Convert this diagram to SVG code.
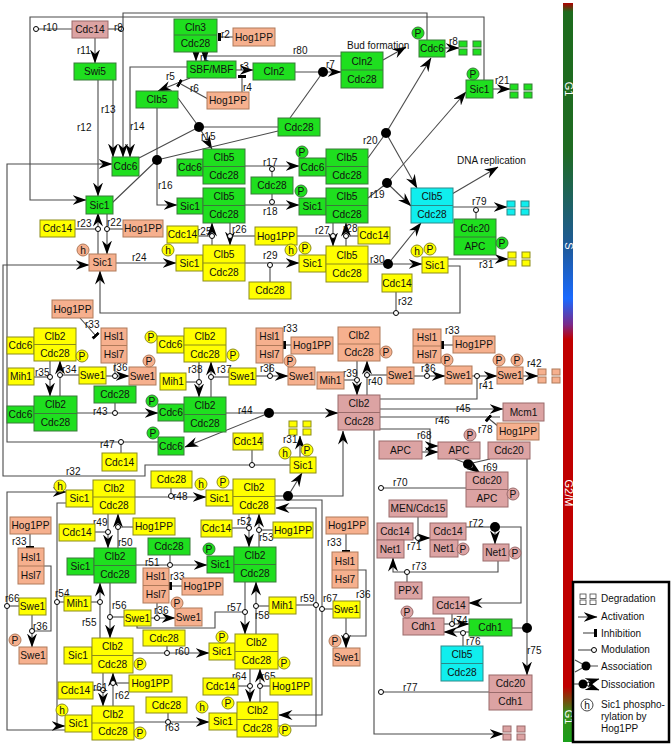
<svg xmlns="http://www.w3.org/2000/svg" xmlns:xlink="http://www.w3.org/1999/xlink" width="672" height="746" viewBox="0 0 672 746">
<style>
text{font-family:"Liberation Sans",Arial,sans-serif;font-size:10.2px;fill:#111}
.t{text-anchor:middle}
.l{font-size:10px}
.g{fill:#1fdf1f;stroke:#3a7a3a;stroke-width:1}
.y{fill:#ffff00;stroke:#8c8c1a;stroke-width:1}
.s{fill:#f6b08e;stroke:#b07a5a;stroke-width:1}
.k{fill:#dca3a3;stroke:#9a6b6b;stroke-width:1}
.c{fill:#10eeee;stroke:#2a8a8a;stroke-width:1}
.e path{fill:none;stroke:#4a4a4a;stroke-width:1.1}
.ea{marker-end:url(#a)}
.eb{marker-end:url(#b)}
.em{marker-end:url(#m)}
.dot{fill:#000}
.bt{fill:#fff;font-size:11px;text-anchor:middle}
</style>
<defs>
<marker id="a" viewBox="0 0 14 10" refX="13.5" refY="5" markerWidth="14" markerHeight="10" markerUnits="userSpaceOnUse" orient="auto"><path d="M0,0 L14,5 L0,10 L4.5,5 Z" fill="#000"/></marker>
<marker id="b" viewBox="0 0 3 10" refX="2" refY="5" markerWidth="3" markerHeight="10" markerUnits="userSpaceOnUse" orient="auto"><rect x="0" y="1" width="3" height="8" fill="#000"/></marker>
<marker id="m" viewBox="-4 -4 8 8" refX="0" refY="0" markerWidth="8" markerHeight="8" markerUnits="userSpaceOnUse"><circle r="2.5" fill="#fff" stroke="#000" stroke-width="1"/></marker>
<g id="dg"><rect x="0" y="0" width="8" height="6"/><rect x="0" y="8" width="8" height="6"/><rect x="14" y="0" width="8" height="6"/><rect x="14" y="8" width="8" height="6"/></g>
<linearGradient id="bar" x1="0" y1="0" x2="0" y2="1">
<stop offset="0" stop-color="#b00000"/>
<stop offset="0.012" stop-color="#1d6b1d"/>
<stop offset="0.2" stop-color="#1f6b22"/>
<stop offset="0.33" stop-color="#1e5a9a"/>
<stop offset="0.4" stop-color="#1a6aff"/>
<stop offset="0.435" stop-color="#7a2a8a"/>
<stop offset="0.455" stop-color="#c00000"/>
<stop offset="0.925" stop-color="#c00000"/>
<stop offset="0.96" stop-color="#3a8a1a"/>
<stop offset="1" stop-color="#1aa01a"/>
</linearGradient>
</defs>
<rect x="0" y="0" width="672" height="746" fill="#fff"/>

<!-- cell cycle bar -->
<g id="phasebar">
<rect x="563" y="3" width="10" height="739" fill="url(#bar)"/>
<text class="bt" transform="translate(564.5,89) rotate(90)">G1</text>
<text class="bt" transform="translate(564.5,246) rotate(90)">S</text>
<text class="bt" transform="translate(564.5,493) rotate(90)">G2/M</text>
<text class="bt" transform="translate(564.5,717) rotate(90)">G1</text>
</g>

<!-- connectors -->
<g id="connectors" class="e">
<path class="ea" d="M484,80 V17 H30 V200 H86"/>
<path class="em" d="M72,29 H36"/>
<path class="ea" d="M427,40 V13 H123 V157"/>
<path class="em" d="M108,29 H121"/>
<path class="ea" d="M95,38 V63"/>
<path class="ea" d="M98,80 V196"/>
<path class="ea" d="M113,80 V157"/>
<path class="ea" d="M187,67 H130 V157"/>
<path class="ea" d="M196,52 V61"/>
<path class="ea" d="M341,56 H205 V61"/>
<path class="eb" d="M233,37 H219"/>
<path class="ea" d="M190,78 L158,91"/>
<path class="eb" d="M208,99 L179,83"/>
<path class="ea" d="M236,70 H253"/>
<path class="eb" d="M242,92 V76"/>
<path class="ea" d="M295,72 H341"/>
<path d="M290,118 L323,72"/>
<path class="ea" d="M383,60 L406,47"/>
<path class="ea" d="M445,48 H459"/>
<path class="ea" d="M493,89 H510"/>
<path d="M178,98 L199,127 M139,158 L199,127 M199,127 H278"/>
<path class="ea" d="M199,127 L212,149"/>
<path class="ea" d="M157,108 V205 H177"/>
<path d="M112,203 L157,160 M157,160 L278,131"/>
<path class="ea" d="M245,166 H299"/>
<path class="em" d="M272,177 V169"/>
<path class="ea" d="M245,205 H299"/>
<path class="em" d="M272,194 V202"/>
<path d="M368,158 L386,133"/>
<path class="ea" d="M386,133 L431,58"/>
<path class="ea" d="M386,133 L417,188"/>
<path d="M368,198 L387,183"/>
<path class="ea" d="M387,183 L466,92"/>
<path class="ea" d="M387,183 L411,206"/>
<path class="ea" d="M368,264 H422"/>
<path class="ea" d="M388,264 L421,223"/>
<path class="ea" d="M452,194 L498,167"/>
<path class="ea" d="M453,207 H507"/>
<path class="em" d="M476,219 V210"/>
<path class="ea" d="M107,213 V254"/>
<path class="em" d="M123,229 H107"/>
<path class="ea" d="M98,254 V213"/>
<path class="em" d="M75,229 H98"/>
<path class="ea" d="M116,263 H176"/>
<path class="ea" d="M212,245 V223"/>
<path class="em" d="M198,236 H212"/>
<path class="ea" d="M230,223 V245"/>
<path class="em" d="M255,236 H230"/>
<path class="ea" d="M333,223 V246"/>
<path class="em" d="M297,236 H333"/>
<path class="ea" d="M346,246 V223"/>
<path class="em" d="M358,236 H346"/>
<path class="ea" d="M245,263 H299"/>
<path class="em" d="M270,282 V265"/>
<path class="ea" d="M448,259 H508"/>
<path class="ea" d="M448,266 H460 V313 H100 V271"/>
<path class="em" d="M396,292 V313"/>
<path class="ea" d="M290,465 H145 V476 H3 V265 H89"/>
<path class="em" d="M252,450 V465"/>
<path class="ea" d="M158,442 H7 V164 H112"/>
<path class="em" d="M121,453 V442"/>
<path class="eb" d="M80,318 L96,336"/>
<path class="ea" d="M50,361 V396"/>
<path class="em" d="M34,377 H50"/>
<path class="ea" d="M60,396 V361"/>
<path class="em" d="M79,375 H60"/>
<path class="ea" d="M106,376 H129"/>
<path class="em" d="M115,363 V376"/>
<path class="ea" d="M77,413 H158"/>
<path class="em" d="M115,403 V413"/>
<path class="ea" d="M199,362 V397"/>
<path class="em" d="M186,382 H199"/>
<path class="ea" d="M211,397 V362"/>
<path class="em" d="M229,377 H211"/>
<path class="eb" d="M291,345 H284"/>
<path class="ea" d="M256,376 H288"/>
<path class="em" d="M270,363 V376"/>
<path class="ea" d="M357,361 V395"/>
<path class="em" d="M344,380 H357"/>
<path class="ea" d="M367,395 V361"/>
<path class="em" d="M387,375 H367"/>
<path class="eb" d="M453,345 H442"/>
<path class="ea" d="M414,376 H445"/>
<path class="em" d="M427,363 V376"/>
<path class="ea" d="M472,376 H497"/>
<path class="em" d="M380,399 H477 V376"/>
<path class="ea" d="M523,376 H538"/>
<path d="M226,413 H269"/>
<path class="ea" d="M269,413 H338"/>
<path class="ea" d="M269,413 L185,447"/>
<path class="ea" d="M380,409 H503"/>
<path d="M380,417 H500"/>
<path class="eb" d="M499,427 L488,418"/>
<path class="ea" d="M422,452 H438"/>
<path class="ea" d="M380,429 H430 V446 H438"/>
<path d="M455,459 L468,464 M490,459 L468,464"/>
<path class="ea" d="M468,464 L480,473"/>
<path class="em" d="M466,488 H381"/>
<path class="ea" d="M374,430 V734 H503"/>
<path class="em" d="M489,692 H381"/>
<path class="ea" d="M135,497 H206"/>
<path class="em" d="M171,488 V496"/>
<path d="M275,496 H288"/>
<path class="ea" d="M288,496 L302,473"/>
<path class="ea" d="M288,496 H343 V431"/>
<path class="ea" d="M300,457 V436"/>
<path class="ea" d="M108,514 V548"/>
<path class="em" d="M95,532 H108"/>
<path class="ea" d="M118,548 V514"/>
<path class="em" d="M133,527 H118"/>
<path class="ea" d="M136,565 H207"/>
<path class="em" d="M170,555 V565"/>
<path class="ea" d="M249,514 V547"/>
<path class="em" d="M231,528 H249"/>
<path class="ea" d="M259,547 V514"/>
<path class="em" d="M273,530 H259"/>
<path class="ea" d="M66,730 H7 V492 H66"/>
<path class="ea" d="M66,503 H57 V726 H65"/>
<path class="em" d="M64,602 H57"/>
<path class="em" d="M19,606 H7"/>
<path class="ea" d="M100,638 V583"/>
<path class="em" d="M91,602 H100"/>
<path class="ea" d="M110,583 V638"/>
<path class="em" d="M124,617 H110"/>
<path class="eb" d="M182,586 H170"/>
<path class="ea" d="M151,618 H175"/>
<path class="em" d="M157,603 V618"/>
<path class="ea" d="M245,582 V634"/>
<path class="em" d="M137,626 V628 H215 V612 H245"/>
<path class="ea" d="M256,634 V582"/>
<path class="em" d="M269,606 H256"/>
<path class="ea" d="M278,726 H316 V508 H276"/>
<path class="em" d="M296,605 H316"/>
<path class="ea" d="M275,500 H322 V715 H279"/>
<path class="em" d="M333,609 H322"/>
<path class="ea" d="M133,653 H209"/>
<path class="em" d="M167,646 V653"/>
<path class="ea" d="M103,673 V706"/>
<path class="em" d="M93,690 H103"/>
<path class="ea" d="M113,706 V673"/>
<path class="em" d="M129,683 H113"/>
<path class="ea" d="M134,722 H209"/>
<path class="em" d="M168,713 V722"/>
<path class="ea" d="M250,669 V702"/>
<path class="em" d="M238,686 H250"/>
<path class="ea" d="M260,702 V669"/>
<path class="em" d="M270,686 H260"/>
<path class="eb" d="M30,534 V548"/>
<path class="ea" d="M32,615 V647"/>
<path class="em" d="M44,566 H51 V631 H32"/>
<path class="eb" d="M346,534 V552"/>
<path class="ea" d="M346,618 V648"/>
<path class="em" d="M358,570 H366 V636 H346"/>
<path class="ea" d="M413,538 H430"/>
<path class="em" d="M418,517 V538"/>
<path d="M466,527 H495"/>
<path class="ea" d="M495,527 H521 V603 H469"/>
<path class="ea" d="M495,527 V544"/>
<path class="ea" d="M498,561 V572 H393 V558"/>
<path class="em" d="M407,582 V572"/>
<path class="ea" d="M444,624 H469"/>
<path class="ea" d="M469,632 H444"/>
<path class="em" d="M452,614 V624"/>
<path class="em" d="M463,646 V633"/>
<path class="ea" d="M527,459 V675"/>
<path d="M512,628 H527"/>
</g>

<!-- association / dissociation dots -->
<g id="dots" class="dot">
<circle cx="323" cy="72" r="5"/>
<circle cx="199" cy="127" r="5"/>
<circle cx="157" cy="160" r="5"/>
<circle cx="386" cy="133" r="5"/>
<circle cx="387" cy="183" r="5"/>
<circle cx="388" cy="264" r="5"/>
<circle cx="269" cy="413" r="5"/>
<circle cx="468" cy="464" r="5"/>
<circle cx="288" cy="496" r="5"/>
<circle cx="495" cy="527" r="5"/>
<circle cx="527" cy="628" r="5"/>
</g>

<!-- degradation -->
<g id="degradation">
<use xlink:href="#dg" href="#dg" x="459" y="41" class="g"/>
<use xlink:href="#dg" href="#dg" x="510" y="84" class="g"/>
<use xlink:href="#dg" href="#dg" x="507" y="201" class="c"/>
<use xlink:href="#dg" href="#dg" x="508" y="252" class="y"/>
<use xlink:href="#dg" href="#dg" x="289" y="421" class="y"/>
<use xlink:href="#dg" href="#dg" x="538" y="369" class="s"/>
<use xlink:href="#dg" href="#dg" x="503" y="726" class="k"/>
</g>

<!-- reaction labels -->
<g id="labels">
<text x="114" y="31" class="l">r9</text>
<text x="43" y="31" class="l">r10</text>
<text x="77" y="54" class="l">r11</text>
<text x="221" y="38" class="l">r2</text>
<text x="200" y="61" class="l">r1</text>
<text x="166" y="80" class="l">r5</text>
<text x="190" y="92" class="l">r6</text>
<text x="240" y="70" class="l">r3</text>
<text x="243" y="91" class="l">r4</text>
<text x="326" y="68" class="l">r7</text>
<text x="293" y="54" class="l">r80</text>
<text x="449" y="45" class="l">r8</text>
<text x="495" y="84" class="l">r21</text>
<text x="347" y="49" class="l">Bud formation</text>
<text x="457" y="164" class="l">DNA replication</text>
<text x="101" y="113" class="l">r13</text>
<text x="77" y="131" class="l">r12</text>
<text x="130" y="130" class="l">r14</text>
<text x="201" y="140" class="l">r15</text>
<text x="158" y="189" class="l">r16</text>
<text x="263" y="166" class="l">r17</text>
<text x="263" y="215" class="l">r18</text>
<text x="363" y="144" class="l">r20</text>
<text x="370" y="198" class="l">r19</text>
<text x="472" y="205" class="l">r79</text>
<text x="77" y="227" class="l">r23</text>
<text x="107" y="226" class="l">r22</text>
<text x="197" y="235" class="l">r25</text>
<text x="232" y="233" class="l">r26</text>
<text x="315" y="234" class="l">r27</text>
<text x="343" y="232" class="l">r28</text>
<text x="132" y="261" class="l">r24</text>
<text x="263" y="259" class="l">r29</text>
<text x="370" y="263" class="l">r30</text>
<text x="398" y="305" class="l">r32</text>
<text x="479" y="268" class="l">r31</text>
<text x="85" y="328" class="l">r33</text>
<text x="35" y="376" class="l">r35</text>
<text x="62" y="373" class="l">r34</text>
<text x="113" y="371" class="l">r36</text>
<text x="188" y="373" class="l">r38</text>
<text x="217" y="373" class="l">r37</text>
<text x="93" y="415" class="l">r43</text>
<text x="100" y="448" class="l">r47</text>
<text x="66" y="475" class="l">r32</text>
<text x="173" y="500" class="l">r48</text>
<text x="283" y="332" class="l">r33</text>
<text x="260" y="372" class="l">r36</text>
<text x="343" y="377" class="l">r39</text>
<text x="368" y="385" class="l">r40</text>
<text x="421" y="372" class="l">r36</text>
<text x="445" y="334" class="l">r33</text>
<text x="527" y="367" class="l">r42</text>
<text x="479" y="389" class="l">r41</text>
<text x="238" y="414" class="l">r44</text>
<text x="456" y="412" class="l">r45</text>
<text x="435" y="424" class="l">r46</text>
<text x="478" y="433" class="l">r78</text>
<text x="417" y="439" class="l">r68</text>
<text x="483" y="471" class="l">r69</text>
<text x="393" y="486" class="l">r70</text>
<text x="283" y="443" class="l">r31</text>
<text x="407" y="550" class="l">r71</text>
<text x="469" y="527" class="l">r72</text>
<text x="412" y="570" class="l">r73</text>
<text x="453" y="624" class="l">r74</text>
<text x="466" y="645" class="l">r76</text>
<text x="527" y="654" class="l">r75</text>
<text x="403" y="691" class="l">r77</text>
<text x="93" y="526" class="l">r49</text>
<text x="118" y="546" class="l">r50</text>
<text x="145" y="566" class="l">r51</text>
<text x="170" y="580" class="l">r33</text>
<text x="12" y="545" class="l">r33</text>
<text x="5" y="602" class="l">r66</text>
<text x="55" y="597" class="l">r54</text>
<text x="82" y="626" class="l">r55</text>
<text x="112" y="609" class="l">r56</text>
<text x="154" y="614" class="l">r36</text>
<text x="33" y="630" class="l">r36</text>
<text x="175" y="655" class="l">r60</text>
<text x="93" y="691" class="l">r61</text>
<text x="115" y="699" class="l">r62</text>
<text x="165" y="731" class="l">r63</text>
<text x="237" y="525" class="l">r52</text>
<text x="259" y="541" class="l">r53</text>
<text x="227" y="611" class="l">r57</text>
<text x="255" y="619" class="l">r58</text>
<text x="300" y="602" class="l">r59</text>
<text x="323" y="602" class="l">r67</text>
<text x="356" y="598" class="l">r36</text>
<text x="327" y="546" class="l">r33</text>
<text x="232" y="680" class="l">r64</text>
<text x="261" y="680" class="l">r65</text>
</g>

<!-- nodes -->
<g id="n-cdc14-top"><rect class="k" x="72" y="21" width="36" height="17"/><text class="t" x="90" y="33">Cdc14</text></g>
<g id="n-cln3-cdc28"><rect class="g" x="174" y="19" width="43" height="33"/><line class="g" x1="174" y1="35" x2="217" y2="35"/><text class="t" x="195.5" y="31">Cln3</text><text class="t" x="195.5" y="47">Cdc28</text></g>
<g id="n-hog1pp-1"><rect class="s" x="233" y="28" width="42" height="18"/><text class="t" x="254" y="40.5">Hog1PP</text></g>
<g id="n-sbf"><rect class="g" x="187" y="61" width="49" height="17"/><text class="t" x="211.5" y="73">SBF/MBF</text></g>
<g id="n-swi5"><rect class="g" x="74" y="63" width="42" height="17"/><text class="t" x="95" y="75">Swi5</text></g>
<g id="n-clb5"><rect class="g" x="136" y="91" width="42" height="17"/><text class="t" x="157" y="103">Clb5</text></g>
<g id="n-hog1pp-2"><rect class="s" x="207" y="92" width="42" height="17"/><text class="t" x="228" y="104">Hog1PP</text></g>
<g id="n-cln2"><rect class="g" x="253" y="63" width="42" height="17"/><text class="t" x="274" y="75">Cln2</text></g>
<g id="n-cdc28-top"><rect class="g" x="278" y="118" width="42" height="18"/><text class="t" x="299" y="130.5">Cdc28</text></g>
<g id="n-cln2-cdc28"><rect class="g" x="341" y="52" width="42" height="36"/><line class="g" x1="341" y1="70" x2="383" y2="70"/><text class="t" x="362" y="64.5">Cln2</text><text class="t" x="362" y="82.5">Cdc28</text></g>
<g id="n-cdc6p-top"><rect class="g" x="419" y="40" width="26" height="17"/><text class="t" x="432" y="52">Cdc6</text><circle class="g" cx="418" cy="33" r="6"/><text class="t" x="418" y="36.5">P</text></g>
<g id="n-sic1p-top"><rect class="g" x="466" y="80" width="27" height="18"/><text class="t" x="479.5" y="92.5">Sic1</text><circle class="g" cx="473" cy="74" r="6"/><text class="t" x="473" y="77.5">P</text></g>
<g id="n-cdc6"><rect class="g" x="112" y="157" width="27" height="19"/><text class="t" x="125.5" y="170">Cdc6</text></g>
<g id="n-cdc6-clb5"><rect class="g" x="177" y="159" width="26" height="17"/><text class="t" x="190" y="171">Cdc6</text><rect class="g" x="203" y="149" width="42" height="35"/><line class="g" x1="203" y1="166.5" x2="245" y2="166.5"/><text class="t" x="224" y="161">Clb5</text><text class="t" x="224" y="179">Cdc28</text></g>
<g id="n-sic1-clb5"><rect class="g" x="177" y="198" width="26" height="16"/><text class="t" x="190" y="209.5">Sic1</text><rect class="g" x="203" y="188" width="42" height="35"/><line class="g" x1="203" y1="205.5" x2="245" y2="205.5"/><text class="t" x="224" y="200">Clb5</text><text class="t" x="224" y="218">Cdc28</text></g>
<g id="n-sic1"><rect class="g" x="86" y="196" width="27" height="18"/><text class="t" x="99.5" y="208.5">Sic1</text></g>
<g id="n-cdc28-mod"><rect class="g" x="251" y="177" width="42" height="17"/><text class="t" x="272" y="189">Cdc28</text></g>
<g id="n-cdc6p-clb5"><rect class="g" x="299" y="158" width="27" height="18"/><text class="t" x="312.5" y="170.5">Cdc6</text><circle class="g" cx="302" cy="152" r="6"/><text class="t" x="302" y="155.5">P</text><rect class="g" x="326" y="149" width="42" height="35"/><line class="g" x1="326" y1="166.5" x2="368" y2="166.5"/><text class="t" x="347" y="161">Clb5</text><text class="t" x="347" y="179">Cdc28</text></g>
<g id="n-sic1p-clb5"><rect class="g" x="299" y="198" width="27" height="17"/><text class="t" x="312.5" y="210">Sic1</text><circle class="g" cx="301" cy="191" r="6"/><text class="t" x="301" y="194.5">P</text><rect class="g" x="326" y="188" width="42" height="35"/><line class="g" x1="326" y1="205.5" x2="368" y2="205.5"/><text class="t" x="347" y="200">Clb5</text><text class="t" x="347" y="218">Cdc28</text></g>
<g id="n-clb5-cdc28-cyan"><rect class="c" x="411" y="188" width="42" height="35"/><line class="c" x1="411" y1="205.5" x2="453" y2="205.5"/><text class="t" x="432" y="200">Clb5</text><text class="t" x="432" y="218">Cdc28</text></g>
<g id="n-cdc20-apc-g"><rect class="g" x="454" y="219" width="42" height="36"/><line class="g" x1="454" y1="237" x2="496" y2="237"/><text class="t" x="475" y="231.5">Cdc20</text><text class="t" x="475" y="249.5">APC</text><circle class="g" cx="502" cy="243" r="6"/><text class="t" x="502" y="246.5">P</text></g>
<g id="n-cdc14-y1"><rect class="y" x="40" y="220" width="35" height="17"/><text class="t" x="57.5" y="232">Cdc14</text></g>
<g id="n-hog1pp-3"><rect class="s" x="123" y="220" width="40" height="17"/><text class="t" x="143" y="232">Hog1PP</text></g>
<g id="n-sic1h-s"><rect class="s" x="89" y="254" width="27" height="17"/><text class="t" x="102.5" y="266">Sic1</text><circle class="s" cx="83" cy="250" r="6"/><text class="t" x="83" y="253.5">h</text></g>
<g id="n-cdc14-y2"><rect class="y" x="167" y="226" width="31" height="17"/><text class="t" x="182.5" y="238">Cdc14</text></g>
<g id="n-hog1pp-y1"><rect class="y" x="255" y="227" width="42" height="18"/><text class="t" x="276" y="239.5">Hog1PP</text></g>
<g id="n-cdc14-y3"><rect class="y" x="358" y="227" width="32" height="17"/><text class="t" x="374" y="239">Cdc14</text></g>
<g id="n-sic1h-clb5-y"><rect class="y" x="176" y="255" width="27" height="16"/><text class="t" x="189.5" y="266.5">Sic1</text><circle class="y" cx="168" cy="250" r="6"/><text class="t" x="168" y="253.5">h</text><rect class="y" x="203" y="245" width="42" height="36"/><line class="y" x1="203" y1="263" x2="245" y2="263"/><text class="t" x="224" y="257.5">Clb5</text><text class="t" x="224" y="275.5">Cdc28</text></g>
<g id="n-sic1hp-clb5-y"><rect class="y" x="299" y="255" width="27" height="17"/><text class="t" x="312.5" y="267">Sic1</text><circle class="y" cx="291" cy="250" r="6"/><text class="t" x="291" y="253.5">h</text><circle class="y" cx="305" cy="248" r="6"/><text class="t" x="305" y="251.5">P</text><rect class="y" x="326" y="246" width="42" height="36"/><line class="y" x1="326" y1="264" x2="368" y2="264"/><text class="t" x="347" y="258.5">Clb5</text><text class="t" x="347" y="276.5">Cdc28</text></g>
<g id="n-cdc28-y1"><rect class="y" x="249" y="282" width="42" height="17"/><text class="t" x="270" y="294">Cdc28</text></g>
<g id="n-sic1hp-right"><rect class="y" x="422" y="257" width="26" height="16"/><text class="t" x="435" y="268.5">Sic1</text><circle class="y" cx="417" cy="251" r="6"/><text class="t" x="417" y="254.5">h</text><circle class="y" cx="430" cy="249" r="6"/><text class="t" x="430" y="252.5">P</text></g>
<g id="n-cdc14-y4"><rect class="y" x="382" y="274" width="30" height="18"/><text class="t" x="397" y="286.5">Cdc14</text></g>
<g id="n-hog1pp-4"><rect class="s" x="52" y="300" width="41" height="18"/><text class="t" x="72.5" y="312.5">Hog1PP</text></g>
<g id="n-hsl-1"><rect class="s" x="101" y="328" width="26" height="35"/><line class="s" x1="101" y1="345.5" x2="127" y2="345.5"/><text class="t" x="114" y="340">Hsl1</text><text class="t" x="114" y="358">Hsl7</text></g>
<g id="n-cdc6-clb2-y"><rect class="y" x="7" y="337" width="27" height="17"/><text class="t" x="20.5" y="349">Cdc6</text><rect class="y" x="34" y="328" width="42" height="33"/><line class="y" x1="34" y1="344.5" x2="76" y2="344.5"/><text class="t" x="55" y="340">Clb2</text><text class="t" x="55" y="356.5">Cdc28</text><circle class="y" cx="82" cy="356" r="6"/><text class="t" x="82" y="359.5">P</text></g>
<g id="n-mih1-1"><rect class="y" x="8" y="368" width="26" height="17"/><text class="t" x="21" y="380">Mih1</text></g>
<g id="n-swe1-y1"><rect class="y" x="79" y="367" width="27" height="17"/><text class="t" x="92.5" y="379">Swe1</text></g>
<g id="n-swe1-s1"><rect class="s" x="129" y="367" width="27" height="18"/><text class="t" x="142.5" y="379.5">Swe1</text><circle class="s" cx="149" cy="361" r="6"/><text class="t" x="149" y="364.5">P</text></g>
<g id="n-cdc28-g2"><rect class="g" x="94" y="386" width="42" height="17"/><text class="t" x="115" y="398">Cdc28</text></g>
<g id="n-cdc6-clb2-g"><rect class="g" x="7" y="406" width="27" height="17"/><text class="t" x="20.5" y="418">Cdc6</text><rect class="g" x="34" y="396" width="43" height="35"/><line class="g" x1="34" y1="413.5" x2="77" y2="413.5"/><text class="t" x="55.5" y="408">Clb2</text><text class="t" x="55.5" y="426">Cdc28</text></g>
<g id="n-cdc6p-clb2-y"><rect class="y" x="157" y="336" width="27" height="17"/><text class="t" x="170.5" y="348">Cdc6</text><circle class="y" cx="151" cy="337" r="6"/><text class="t" x="151" y="340.5">P</text><rect class="y" x="184" y="328" width="42" height="34"/><line class="y" x1="184" y1="345" x2="226" y2="345"/><text class="t" x="205" y="340">Clb2</text><text class="t" x="205" y="357.5">Cdc28</text><circle class="y" cx="233" cy="355" r="6"/><text class="t" x="233" y="358.5">P</text></g>
<g id="n-mih1-2"><rect class="y" x="160" y="373" width="26" height="17"/><text class="t" x="173" y="385">Mih1</text></g>
<g id="n-swe1-y2"><rect class="y" x="229" y="368" width="27" height="17"/><text class="t" x="242.5" y="380">Swe1</text></g>
<g id="n-hsl-2"><rect class="s" x="256" y="328" width="27" height="35"/><line class="s" x1="256" y1="345.5" x2="283" y2="345.5"/><text class="t" x="269.5" y="340">Hsl1</text><text class="t" x="269.5" y="358">Hsl7</text></g>
<g id="n-hog1pp-5"><rect class="s" x="291" y="337" width="42" height="17"/><text class="t" x="312" y="349">Hog1PP</text></g>
<g id="n-swe1-s2"><rect class="s" x="288" y="367" width="27" height="18"/><text class="t" x="301.5" y="379.5">Swe1</text><circle class="s" cx="290" cy="361" r="6"/><text class="t" x="290" y="364.5">P</text></g>
<g id="n-clb2-cdc28-s"><rect class="s" x="338" y="327" width="42" height="34"/><line class="s" x1="338" y1="344" x2="380" y2="344"/><text class="t" x="359" y="339">Clb2</text><text class="t" x="359" y="356">Cdc28</text><circle class="s" cx="386" cy="352" r="6"/><text class="t" x="386" y="355.5">P</text></g>
<g id="n-mih1-s"><rect class="s" x="317" y="372" width="27" height="17"/><text class="t" x="330.5" y="384">Mih1</text></g>
<g id="n-swe1-s3"><rect class="s" x="387" y="367" width="27" height="17"/><text class="t" x="400.5" y="379">Swe1</text></g>
<g id="n-hsl-3"><rect class="s" x="413" y="329" width="28" height="34"/><line class="s" x1="413" y1="346" x2="441" y2="346"/><text class="t" x="427" y="341">Hsl1</text><text class="t" x="427" y="358">Hsl7</text></g>
<g id="n-hog1pp-6"><rect class="s" x="453" y="336" width="42" height="17"/><text class="t" x="474" y="348">Hog1PP</text></g>
<g id="n-swe1p"><rect class="s" x="445" y="366" width="27" height="18"/><text class="t" x="458.5" y="378.5">Swe1</text><circle class="s" cx="447" cy="360" r="6"/><text class="t" x="447" y="363.5">P</text></g>
<g id="n-swe1pp"><rect class="s" x="497" y="367" width="26" height="17"/><text class="t" x="510" y="379">Swe1</text><circle class="s" cx="499" cy="360" r="6"/><text class="t" x="499" y="363.5">P</text><circle class="s" cx="517" cy="360" r="6"/><text class="t" x="517" y="363.5">P</text></g>
<g id="n-cdc6p-clb2-g"><rect class="g" x="158" y="404" width="26" height="17"/><text class="t" x="171" y="416">Cdc6</text><circle class="g" cx="152" cy="401" r="6"/><text class="t" x="152" y="404.5">P</text><rect class="g" x="184" y="397" width="42" height="35"/><line class="g" x1="184" y1="414.5" x2="226" y2="414.5"/><text class="t" x="205" y="409">Clb2</text><text class="t" x="205" y="427">Cdc28</text></g>
<g id="n-cdc6p-low"><rect class="g" x="158" y="437" width="26" height="18"/><text class="t" x="171" y="449.5">Cdc6</text><circle class="g" cx="153" cy="433" r="6"/><text class="t" x="153" y="436.5">P</text></g>
<g id="n-cdc14-y5"><rect class="y" x="102" y="453" width="35" height="18"/><text class="t" x="119.5" y="465.5">Cdc14</text></g>
<g id="n-clb2-cdc28-k"><rect class="k" x="338" y="395" width="42" height="35"/><line class="k" x1="338" y1="412.5" x2="380" y2="412.5"/><text class="t" x="359" y="407">Clb2</text><text class="t" x="359" y="425">Cdc28</text></g>
<g id="n-mcm1"><rect class="k" x="503" y="403" width="41" height="18"/><text class="t" x="523.5" y="415.5">Mcm1</text></g>
<g id="n-hog1pp-7"><rect class="s" x="497" y="423" width="42" height="17"/><text class="t" x="518" y="435">Hog1PP</text></g>
<g id="n-apc-1"><rect class="k" x="379" y="441" width="43" height="18"/><text class="t" x="400.5" y="453.5">APC</text></g>
<g id="n-apc-2"><rect class="k" x="438" y="442" width="42" height="17"/><text class="t" x="459" y="454">APC</text><circle class="k" cx="470" cy="435" r="6"/><text class="t" x="470" y="438.5">P</text></g>
<g id="n-cdc20"><rect class="k" x="488" y="442" width="42" height="17"/><text class="t" x="509" y="454">Cdc20</text></g>
<g id="n-cdc20-apc-k"><rect class="k" x="466" y="472" width="42" height="35"/><line class="k" x1="466" y1="489.5" x2="508" y2="489.5"/><text class="t" x="487" y="484">Cdc20</text><text class="t" x="487" y="502">APC</text><circle class="k" cx="513" cy="494" r="6"/><text class="t" x="513" y="497.5">P</text></g>
<g id="n-cdc14-y6"><rect class="y" x="233" y="433" width="30" height="17"/><text class="t" x="248" y="445">Cdc14</text></g>
<g id="n-sic1hp-mid"><rect class="y" x="290" y="457" width="26" height="16"/><text class="t" x="303" y="468.5">Sic1</text><circle class="y" cx="285" cy="453" r="6"/><text class="t" x="285" y="456.5">h</text><circle class="y" cx="307" cy="450" r="6"/><text class="t" x="307" y="453.5">P</text></g>
<g id="n-cdc28-y2"><rect class="y" x="151" y="471" width="41" height="17"/><text class="t" x="171.5" y="483">Cdc28</text></g>
<g id="n-sic1h-clb2-y1"><rect class="y" x="66" y="490" width="27" height="17"/><text class="t" x="79.5" y="502">Sic1</text><circle class="y" cx="60" cy="486" r="6"/><text class="t" x="60" y="489.5">h</text><rect class="y" x="93" y="480" width="42" height="34"/><line class="y" x1="93" y1="497" x2="135" y2="497"/><text class="t" x="114" y="492">Clb2</text><text class="t" x="114" y="509">Cdc28</text></g>
<g id="n-sic1hp-clb2-y2"><rect class="y" x="206" y="490" width="27" height="16"/><text class="t" x="219.5" y="501.5">Sic1</text><circle class="y" cx="201" cy="484" r="6"/><text class="t" x="201" y="487.5">h</text><circle class="y" cx="223" cy="482" r="6"/><text class="t" x="223" y="485.5">P</text><rect class="y" x="233" y="479" width="42" height="35"/><line class="y" x1="233" y1="496.5" x2="275" y2="496.5"/><text class="t" x="254" y="491">Clb2</text><text class="t" x="254" y="509">Cdc28</text></g>
<g id="n-men"><rect class="k" x="389" y="500" width="58" height="17"/><text class="t" x="418" y="512">MEN/Cdc15</text></g>
<g id="n-cdc14-net1-1"><rect class="k" x="377" y="523" width="36" height="17"/><text class="t" x="395" y="535">Cdc14</text><rect class="k" x="377" y="540" width="27" height="18"/><text class="t" x="390.5" y="552.5">Net1</text></g>
<g id="n-cdc14-net1-2"><rect class="k" x="430" y="523" width="36" height="17"/><text class="t" x="448" y="535">Cdc14</text><rect class="k" x="430" y="540" width="28" height="17"/><text class="t" x="444" y="552">Net1</text><circle class="k" cx="463" cy="549" r="6"/><text class="t" x="463" y="552.5">P</text></g>
<g id="n-net1p"><rect class="k" x="483" y="544" width="26" height="17"/><text class="t" x="496" y="556">Net1</text><circle class="k" cx="515" cy="553" r="6"/><text class="t" x="515" y="556.5">P</text></g>
<g id="n-ppx"><rect class="k" x="395" y="582" width="27" height="17"/><text class="t" x="408.5" y="594">PPX</text></g>
<g id="n-cdc14-k2"><rect class="k" x="433" y="597" width="36" height="17"/><text class="t" x="451" y="609">Cdc14</text></g>
<g id="n-cdh1p"><rect class="k" x="403" y="618" width="41" height="17"/><text class="t" x="423.5" y="630">Cdh1</text><circle class="k" cx="407" cy="612" r="6"/><text class="t" x="407" y="615.5">P</text></g>
<g id="n-cdh1"><rect class="g" x="469" y="619" width="43" height="17"/><text class="t" x="490.5" y="631">Cdh1</text></g>
<g id="n-clb5-cdc28-cyan2"><rect class="c" x="441" y="646" width="42" height="35"/><line class="c" x1="441" y1="663.5" x2="483" y2="663.5"/><text class="t" x="462" y="658">Clb5</text><text class="t" x="462" y="676">Cdc28</text></g>
<g id="n-cdc20-cdh1"><rect class="k" x="489" y="675" width="43" height="35"/><line class="k" x1="489" y1="692.5" x2="532" y2="692.5"/><text class="t" x="510.5" y="687">Cdc20</text><text class="t" x="510.5" y="705">Cdh1</text></g>
<g id="n-hog1pp-8"><rect class="s" x="10" y="517" width="41" height="17"/><text class="t" x="30.5" y="529">Hog1PP</text></g>
<g id="n-hsl-4"><rect class="s" x="18" y="548" width="26" height="36"/><line class="s" x1="18" y1="566" x2="44" y2="566"/><text class="t" x="31" y="560.5">Hsl1</text><text class="t" x="31" y="578.5">Hsl7</text></g>
<g id="n-swe1-y3"><rect class="y" x="19" y="598" width="27" height="17"/><text class="t" x="32.5" y="610">Swe1</text></g>
<g id="n-swe1-s4"><rect class="s" x="19" y="647" width="28" height="17"/><text class="t" x="33" y="659">Swe1</text><circle class="s" cx="15" cy="640" r="6"/><text class="t" x="15" y="643.5">P</text></g>
<g id="n-cdc14-y7"><rect class="y" x="59" y="524" width="36" height="17"/><text class="t" x="77" y="536">Cdc14</text></g>
<g id="n-hog1pp-y2"><rect class="y" x="133" y="518" width="42" height="17"/><text class="t" x="154" y="530">Hog1PP</text></g>
<g id="n-sic1-clb2-g1"><rect class="g" x="67" y="558" width="27" height="17"/><text class="t" x="80.5" y="570">Sic1</text><rect class="g" x="94" y="548" width="42" height="35"/><line class="g" x1="94" y1="565.5" x2="136" y2="565.5"/><text class="t" x="115" y="560">Clb2</text><text class="t" x="115" y="578">Cdc28</text></g>
<g id="n-cdc28-g3"><rect class="g" x="148" y="538" width="42" height="17"/><text class="t" x="169" y="550">Cdc28</text></g>
<g id="n-sic1p-clb2-g2"><rect class="g" x="207" y="556" width="27" height="17"/><text class="t" x="220.5" y="568">Sic1</text><circle class="g" cx="209" cy="549" r="6"/><text class="t" x="209" y="552.5">P</text><rect class="g" x="234" y="547" width="42" height="35"/><line class="g" x1="234" y1="564.5" x2="276" y2="564.5"/><text class="t" x="255" y="559">Clb2</text><text class="t" x="255" y="577">Cdc28</text></g>
<g id="n-cdc14-y8"><rect class="y" x="201" y="520" width="31" height="17"/><text class="t" x="216.5" y="532">Cdc14</text></g>
<g id="n-hog1pp-y3"><rect class="y" x="273" y="522" width="40" height="16"/><text class="t" x="293" y="533.5">Hog1PP</text></g>
<g id="n-hsl-5"><rect class="s" x="143" y="568" width="26" height="35"/><line class="s" x1="143" y1="585.5" x2="169" y2="585.5"/><text class="t" x="156" y="580">Hsl1</text><text class="t" x="156" y="598">Hsl7</text></g>
<g id="n-hog1pp-9"><rect class="s" x="182" y="578" width="41" height="17"/><text class="t" x="202.5" y="590">Hog1PP</text></g>
<g id="n-mih1-3"><rect class="y" x="64" y="596" width="27" height="15"/><text class="t" x="77.5" y="607">Mih1</text></g>
<g id="n-swe1-y4"><rect class="y" x="124" y="610" width="27" height="16"/><text class="t" x="137.5" y="621.5">Swe1</text></g>
<g id="n-swe1-s5"><rect class="s" x="175" y="608" width="27" height="18"/><text class="t" x="188.5" y="620.5">Swe1</text><circle class="s" cx="177" cy="603" r="6"/><text class="t" x="177" y="606.5">P</text></g>
<g id="n-mih1-4"><rect class="y" x="269" y="597" width="27" height="17"/><text class="t" x="282.5" y="609">Mih1</text></g>
<g id="n-sic1-clb2-y3"><rect class="y" x="64" y="647" width="28" height="17"/><text class="t" x="78" y="659">Sic1</text><rect class="y" x="92" y="638" width="41" height="35"/><line class="y" x1="92" y1="655.5" x2="133" y2="655.5"/><text class="t" x="112.5" y="650">Clb2</text><text class="t" x="112.5" y="668">Cdc28</text><circle class="y" cx="140" cy="664" r="6"/><text class="t" x="140" y="667.5">P</text></g>
<g id="n-cdc28-y3"><rect class="y" x="143" y="630" width="42" height="16"/><text class="t" x="164" y="641.5">Cdc28</text></g>
<g id="n-sic1p-clb2-y4"><rect class="y" x="209" y="643" width="26" height="17"/><text class="t" x="222" y="655">Sic1</text><circle class="y" cx="222" cy="637" r="6"/><text class="t" x="222" y="640.5">P</text><rect class="y" x="235" y="634" width="43" height="35"/><line class="y" x1="235" y1="651.5" x2="278" y2="651.5"/><text class="t" x="256.5" y="646">Clb2</text><text class="t" x="256.5" y="664">Cdc28</text><circle class="y" cx="284" cy="663" r="6"/><text class="t" x="284" y="666.5">P</text></g>
<g id="n-cdc14-y9"><rect class="y" x="58" y="682" width="35" height="17"/><text class="t" x="75.5" y="694">Cdc14</text></g>
<g id="n-hog1pp-y4"><rect class="y" x="129" y="675" width="43" height="17"/><text class="t" x="150.5" y="687">Hog1PP</text></g>
<g id="n-cdc14-y10"><rect class="y" x="203" y="678" width="35" height="17"/><text class="t" x="220.5" y="690">Cdc14</text></g>
<g id="n-hog1pp-y5"><rect class="y" x="270" y="678" width="42" height="17"/><text class="t" x="291" y="690">Hog1PP</text></g>
<g id="n-cdc28-y4"><rect class="y" x="146" y="697" width="41" height="16"/><text class="t" x="166.5" y="708.5">Cdc28</text></g>
<g id="n-sic1h-clb2-y5"><rect class="y" x="65" y="715" width="27" height="17"/><text class="t" x="78.5" y="727">Sic1</text><circle class="y" cx="62" cy="710" r="6"/><text class="t" x="62" y="713.5">h</text><rect class="y" x="92" y="706" width="42" height="34"/><line class="y" x1="92" y1="723" x2="134" y2="723"/><text class="t" x="113" y="718">Clb2</text><text class="t" x="113" y="735">Cdc28</text><circle class="y" cx="140" cy="733" r="6"/><text class="t" x="140" y="736.5">P</text></g>
<g id="n-sic1hp-clb2-y6"><rect class="y" x="209" y="713" width="28" height="17"/><text class="t" x="223" y="725">Sic1</text><circle class="y" cx="202" cy="707" r="6"/><text class="t" x="202" y="710.5">h</text><circle class="y" cx="228" cy="703" r="6"/><text class="t" x="228" y="706.5">P</text><rect class="y" x="237" y="702" width="41" height="35"/><line class="y" x1="237" y1="719.5" x2="278" y2="719.5"/><text class="t" x="257.5" y="714">Clb2</text><text class="t" x="257.5" y="732">Cdc28</text><circle class="y" cx="285" cy="730" r="6"/><text class="t" x="285" y="733.5">P</text></g>
<g id="n-hog1pp-10"><rect class="s" x="326" y="517" width="42" height="17"/><text class="t" x="347" y="529">Hog1PP</text></g>
<g id="n-hsl-6"><rect class="s" x="332" y="552" width="26" height="36"/><line class="s" x1="332" y1="570" x2="358" y2="570"/><text class="t" x="345" y="564.5">Hsl1</text><text class="t" x="345" y="582.5">Hsl7</text></g>
<g id="n-swe1-y5"><rect class="y" x="333" y="601" width="27" height="17"/><text class="t" x="346.5" y="613">Swe1</text></g>
<g id="n-swe1-s6"><rect class="s" x="333" y="648" width="27" height="18"/><text class="t" x="346.5" y="660.5">Swe1</text><circle class="s" cx="335" cy="641" r="6"/><text class="t" x="335" y="644.5">P</text></g>

<!-- legend -->
<g id="legend">
<rect x="573" y="582" width="96" height="160" fill="#fff" stroke="#000" stroke-width="2.5"/>
<g fill="#fff" stroke="#444" stroke-width="0.8"><rect x="580" y="594" width="6" height="4.5"/><rect x="580" y="600" width="6" height="4.5"/><rect x="590" y="594" width="6" height="4.5"/><rect x="590" y="600" width="6" height="4.5"/></g>
<text x="601" y="602" class="l">Degradation</text>
<g class="e"><path class="ea" d="M578,617 H597"/><path class="eb" d="M583,633 H596"/><path class="em" d="M578,650 H594"/><path d="M575,660 L586,666 M575,672 L586,666 M586,666 H598"/><path d="M574,684 H583"/><path class="ea" d="M583,684 L599,679"/><path class="ea" d="M583,684 L599,690"/></g>
<circle cx="586" cy="666" r="4.5" fill="#000"/>
<circle cx="583" cy="684" r="4.5" fill="#000"/>
<text x="601" y="620" class="l">Activation</text>
<text x="601" y="637" class="l">Inhibition</text>
<text x="601" y="653" class="l">Modulation</text>
<text x="601" y="670" class="l">Association</text>
<text x="601" y="688" class="l">Dissociation</text>
<circle cx="587" cy="705" r="6" fill="#fff" stroke="#444"/>
<text class="t" x="587" y="708.5">h</text>
<text x="601" y="708" class="l">Sic1 phospho-</text>
<text x="601" y="720" class="l">rylation by</text>
<text x="601" y="732" class="l">Hog1PP</text>
</g>
</svg>
